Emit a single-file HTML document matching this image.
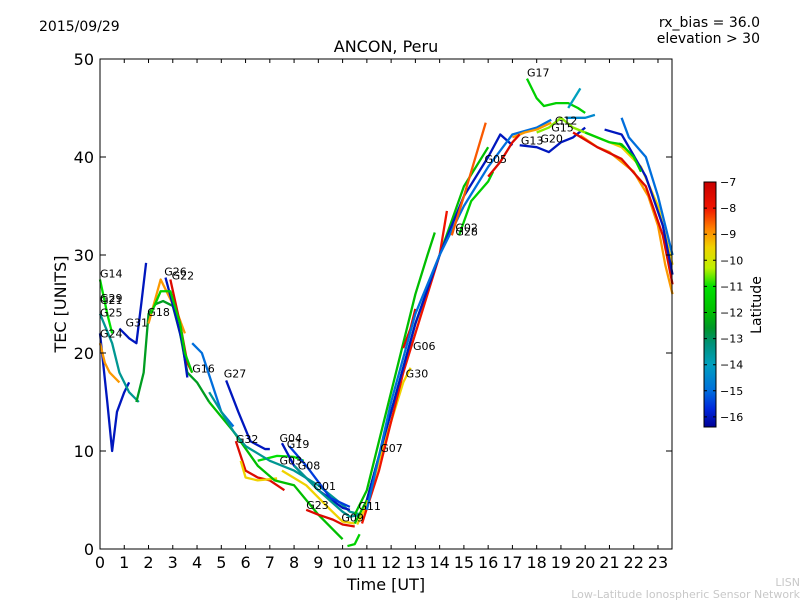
<!DOCTYPE html>
<html><head><meta charset="utf-8"><style>
body{margin:0;background:#fff;}
svg text{font-family:"DejaVu Sans","Liberation Sans",sans-serif;}
</style></head><body>
<svg id="chart" width="800" height="600" xmlns="http://www.w3.org/2000/svg">
<rect width="800" height="600" fill="#fff"/>
<text x="39" y="31" font-size="14">2015/09/29</text>
<text x="760" y="27" font-size="14" text-anchor="end">rx_bias = 36.0</text>
<text x="760" y="43" font-size="14" text-anchor="end">elevation &gt; 30</text>
<text x="386" y="52" font-size="16" text-anchor="middle">ANCON, Peru</text>
<g id="plot"></g>
<rect x="100" y="59" width="572" height="490" fill="none" stroke="#000" stroke-width="1"/>
<g id="axes"></g>
<text x="386" y="590" font-size="16" text-anchor="middle">Time [UT]</text>
<text transform="translate(66,304) rotate(-90)" font-size="16" text-anchor="middle">TEC [UNITS]</text>
<defs><linearGradient id="cmap" x1="0" y1="0" x2="0" y2="1"></linearGradient></defs>
<rect x="704" y="182" width="12" height="245" fill="url(#cmap)" stroke="#000" stroke-width="1"/>
<g id="cbticks"></g>
<text transform="translate(761,305) rotate(-90)" font-size="14" text-anchor="middle">Latitude</text>
<text x="800" y="586" font-size="11" fill="#c8c8c8" text-anchor="end">LISN</text>
<text x="800" y="598" font-size="11" fill="#c8c8c8" text-anchor="end">Low-Latitude Ionospheric Sensor Network</text>
</svg>
<script>
const xTicks=[0,1,2,3,4,5,6,7,8,9,10,11,12,13,14,15,16,17,18,19,20,21,22,23];
const yTicks=[0,10,20,30,40,50];
const cbTicks=[-7,-8,-9,-10,-11,-12,-13,-14,-15,-16];
const seriesLat=[-11,-16,-9,-13.5,-16,-12.5,-9,-7.5,-16,-11.5,-15,-16,-7.5,-9.5,-12,-11,-13.5,
 -16,-15.5,-13.5,-9.5,-7.5,-11.5,-12,-12,-9.5,-7.5,-8,-16,-15,-11.5,-8.5,-16,-11.5,-14,-14.5,-9,-7.5,-9.5,-16,-15,-11.5,-12,-10.5,-9,-7.5];
const seriesT=[
[0,0.3,0.5],[0,0.3,0.5,0.7,1,1.2],[0,0.2,0.4,0.6,0.8],[0,0.5,0.8,1.2,1.6],[0.8,1.2,1.5,1.7,1.9],
[1.5,1.8,2.0,2.3,2.6,3,3.3,3.6,4,4.5],[2,2.5,2.8,3.2,3.5],[2.9,3.3,3.6,3.8],[2.7,3.1,3.4,3.6],[2.1,2.5,2.9,3.3,3.5,3.8],
[3.8,4.2,4.6,5,5.5],[5.2,5.7,6.2,6.8,7],[5.6,6,6.5,7,7.6],[5.8,6,6.5,7.3],[4.5,5.5,6.5,7.2,8,9,9.8,10],
[6.5,7.3,8,8.4],[4.5,5.5,6,7,8,9,10,10.3,10.8],
[7.5,8,9,10,10.3],[7.8,8.5,9.5,10.3],[8,9,10,10.3,10.8],[7.5,8.5,9.5,10,10.5],[8.5,9,9.6,10,10.5],[10.2,10.5,10.7],
[10.5,11,11.5,12,12.5,13,13.5,13.8],[10.5,11,12,13,14,15,16],[10.6,11,11.5,12,12.5,12.8],[12.5,12.8,13],
[10.8,11.5,12.5,13.5,14,14.3],[11,12,13,14,15,16,16.5,17],[11,12,13,14,15,16,17,18,18.6],[14.8,15.3,16,16.2],
[14.5,15,15.6,15.9],[17.3,18,18.5,19,19.5,20],[17.6,18,18.3,18.8,19.3,19.7,20],[19.3,19.8],[19.2,20,20.4],
[19.8,20.5,21,22,22.6,23,23.3,23.6],[19.5,20.5,21.5,22.5,23.2,23.6],[19.5,20.5,21.5,22.3,23,23.6],[20.8,21.5,22.5,23.2,23.6],
[21.5,21.8,22.5,23,23.6],[20,21,21.5,22,22.3],[21.4,21.6],[18,18.5,19,19.5,20],[17,17.5,18,18.6],[16,16.5,17,17.3]];
const seriesV=[
[27.5,24,22],[22,15,10,14,16,17],[21,19,18,17.5,17],[24,21,18,16,15],[22.5,21.5,21,25,29.2],
[15,18,24,25,25.3,24.8,22,18,17,15],[23,27.5,26,24,22],[27.5,23,19,18],[27.7,24,21,17.5],[24,26.3,26.3,23,20,18],
[21,20,17,14,12.5],[17.2,14,11,10.2,10.2],[11,8,7.3,7,6],[9,7.3,7,7.2],[15,12,8.5,7,6.5,3.5,1.5,1],
[9,9.5,9.4,9],[16,12,10.5,9,8,6.5,4.5,3.8,3.5],
[10.8,8.5,6,4.2,4],[10.5,8.5,5.2,4.3],[8.5,6,3.8,3.3,3.5],[8,6.5,4,2.8,2.6],[4,3.5,3,2.5,2.3],[0.3,0.5,1.5],
[3.5,6,11,16,21,26,30,32.3],[2.6,5,14,23,30,37,41],[2.5,4.5,9,13,17,18.5],[20.5,22.5,24.5],
[2.6,8,18,26,30,34.5],[5,14,23,30,36,40,42.3,41.2],[4,15,24,30,35,39,42.3,43,43.8],[32,35.5,37.5,38.5],
[32,36,41,43.5],[41.2,41,40.5,41.5,42,43],[48,46,45.2,45.5,45.5,45,44.5],[45,47],[44,44,44.3],
[42.2,41,40.5,38.5,36,33,29,26],[42.5,41,39.8,37,32,27],[43,42,41,39,35,29],[42.8,42.3,38,33,28],
[44,42,40,36,30],[42.5,41.5,41.3,40,38.5],[41.4,41],[42.5,43,44,43,42.5],[42,42.5,42.8,43.5],[38,39.5,41.5,42.3]];
const labelNames=["G14","G29","G21","G25","G24","G31","G18","G26","G22","G16","G27","G32","G04","G19","G03","G08","G01","G23","G09","G11","G07","G30","G06","G02","G28","G05","G17","G12","G15","G20","G13"];
const labelT=[0,0,0,0,0,1.05,1.95,2.65,2.95,3.8,5.1,5.6,7.4,7.7,7.4,8.15,8.8,8.5,9.95,10.65,11.55,12.6,12.9,14.65,14.65,15.85,17.6,18.75,18.6,18.15,17.35];
const labelV=[27.7,25.2,25,23.7,21.6,22.7,23.8,27.9,27.5,18,17.5,10.8,10.9,10.3,8.6,8.1,6,4.1,2.8,4,9.9,17.5,20.3,32.4,32,39.4,48.2,43.3,42.6,41.5,41.3];
const svgNS="http://www.w3.org/2000/svg";
const X0=100,XS=24.26,Y0=549,YS=9.8;
const cmapLat=[-7,-8,-8.8,-9.5,-10.3,-11,-12,-12.6,-13.2,-14,-15,-15.7,-16.4];
const cmapCol=[[200,0,0],[240,20,0],[255,130,0],[240,210,0],[190,240,0],[0,225,0],[0,190,0],[0,150,40],[0,145,120],[0,160,190],[0,110,220],[0,40,220],[0,0,150]];
function xs(t){return X0+t*XS;}
function ys(v){return Y0-v*YS;}
function cbY(l){return 182+(-7-l)*26.1;}
function cmap(l){
 l=Math.max(-16.4,Math.min(-7,l));
 for(let i=0;i<cmapLat.length-1;i++){
  if(l<=cmapLat[i]&&l>=cmapLat[i+1]){
   const f=(cmapLat[i]-l)/(cmapLat[i]-cmapLat[i+1]);
   const c=cmapCol[i].map((v,k)=>Math.round(v+(cmapCol[i+1][k]-v)*f));
   return `rgb(${c[0]},${c[1]},${c[2]})`;
  }
 }
 return 'rgb(0,0,150)';
}
const grad=document.getElementById('cmap');
cmapLat.forEach(l=>{
 const s=document.createElementNS(svgNS,'stop');
 s.setAttribute('offset',((-7-l)/9.4).toFixed(3));
 s.setAttribute('stop-color',cmap(l));
 grad.appendChild(s);
});
const plot=document.getElementById('plot');
for(let i=0;i<seriesT.length;i++){
 const p=document.createElementNS(svgNS,'polyline');
 p.setAttribute('points',seriesT[i].map((t,j)=>xs(t)+','+ys(seriesV[i][j])).join(' '));
 p.setAttribute('fill','none');p.setAttribute('stroke',cmap(seriesLat[i]));p.setAttribute('stroke-width','2.3');p.setAttribute('stroke-linejoin','round');
 
 
 plot.appendChild(p);
}
for(let i=0;i<labelNames.length;i++){
 const t=document.createElementNS(svgNS,'text');
 t.setAttribute('x',xs(labelT[i]));t.setAttribute('y',ys(labelV[i]));t.setAttribute('font-size','11');
 t.textContent=labelNames[i];
 
 
 plot.appendChild(t);
}
const axes=document.getElementById('axes');
xTicks.forEach(v=>{
 const l=document.createElementNS(svgNS,'path');
 l.setAttribute('d',`M${xs(v)},549v-4M${xs(v)},59v4`);l.setAttribute('stroke','#000');
 
 
 axes.appendChild(l);
 const t=document.createElementNS(svgNS,'text');
 t.setAttribute('x',xs(v));t.setAttribute('y',568);t.setAttribute('font-size','16');t.setAttribute('text-anchor','middle');t.textContent=v;
 
 
 axes.appendChild(t);
});
yTicks.forEach(v=>{
 const l=document.createElementNS(svgNS,'path');
 l.setAttribute('d',`M100,${ys(v)}h6M672,${ys(v)}h-6`);l.setAttribute('stroke','#000');
 
 
 axes.appendChild(l);
 const t=document.createElementNS(svgNS,'text');
 t.setAttribute('x',94);t.setAttribute('y',ys(v)+6);t.setAttribute('font-size','16');t.setAttribute('text-anchor','end');t.textContent=v;
 
 
 axes.appendChild(t);
});
const cb=document.getElementById('cbticks');
cbTicks.forEach(v=>{
 const l=document.createElementNS(svgNS,'path');
 l.setAttribute('d',`M704,${cbY(v)}h3M716,${cbY(v)}h-3`);l.setAttribute('stroke','#000');
 
 
 cb.appendChild(l);
 const t=document.createElementNS(svgNS,'text');
 t.setAttribute('x',720);t.setAttribute('y',cbY(v)+4);t.setAttribute('font-size','11');t.textContent=String(v).replace('-','\u2212');
 
 
 cb.appendChild(t);
});
</script>
</body></html>
